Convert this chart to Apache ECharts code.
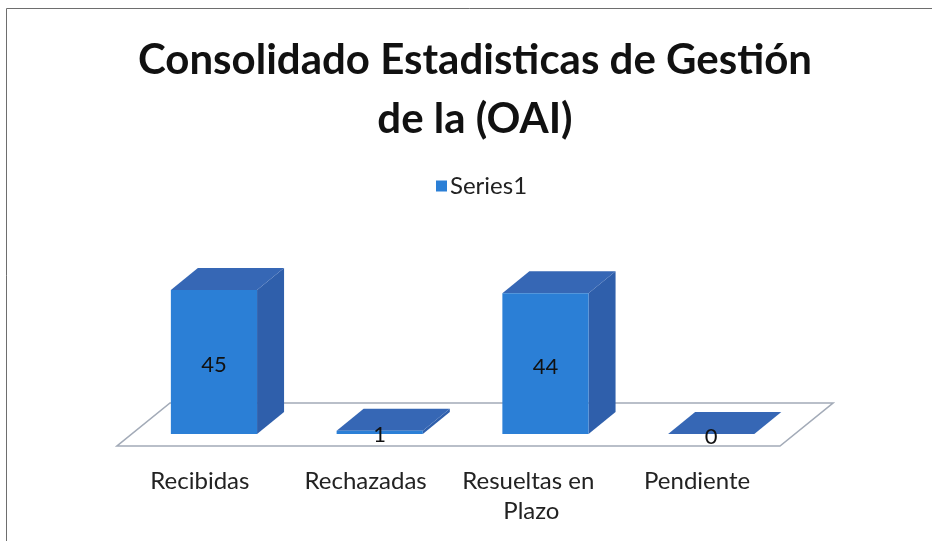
<!DOCTYPE html>
<html>
<head>
<meta charset="utf-8">
<script src="https://cdn.jsdelivr.net/npm/echarts@6/dist/echarts.min.js"></script>
<style>html,body{margin:0;padding:0;background:#fff}#c{width:932px;height:541px}</style>
</head>
<body>
<div id="c"></div>
<script>
const titleText = 'Consolidado Estadisticas de Gestión\nde la (OAI)';
const seriesName = 'Series1';
const categories = ['Recibidas', 'Rechazadas', 'Resueltas en Plazo', 'Pendiente'];
const values = [45, 1, 44, 0];

const FRONT = '#2b7fd6', SIDE = '#2f5fab', TOP = '#3667b5';
const FONT = 'Lato, "Open Sans", sans-serif';

const chart = echarts.init(document.getElementById('c'));
chart.setOption({
  backgroundColor: '#fff',
  animation: false,
  graphic: [{
    type: 'rect', shape: { x: 6.5, y: 8.5, width: 960, height: 600 },
    style: { fill: 'none', stroke: '#6e6e6e', lineWidth: 1 }, silent: true
  }],
  title: {
    text: titleText, left: 470, top: 26, textAlign: 'center',
    textStyle: { fontFamily: FONT, fontWeight: 'bold', fontSize: 42, lineHeight: 59, color: '#111' }
  },
  legend: {
    data: [{ name: seriesName, icon: 'rect' }], left: 431, top: 169,
    itemWidth: 11, itemHeight: 11, itemGap: 4,
    textStyle: { fontFamily: FONT, fontSize: 24, color: '#222', padding: [0, 0, 0, -2] }
  },
  grid: { left: 117, width: 663, top: 274, height: 160, containLabel: false },
  xAxis: {
    type: 'category', data: categories,
    axisLine: { show: false }, axisTick: { show: false }, splitLine: { show: false },
    axisLabel: { margin: 32, fontFamily: FONT, fontSize: 24, color: '#222', lineHeight: 30, width: 145, overflow: 'break', interval: 0 }
  },
  yAxis: { type: 'value', min: 0, max: 50, show: false, splitLine: { show: false } },
  series: [
    {
      type: 'custom', name: 'floor', silent: true, z: 1,
      data: [[0, 0]],
      renderItem: function (params, api) {
        const p0 = api.coord([0, 0]);
        const band = api.size([1, 0])[0];
        const left = p0[0] - band / 2;
        const right = left + band * categories.length;
        const yf = p0[1] + 12, yb = p0[1] - 31, dx = 53;
        return {
          type: 'polygon',
          shape: { points: [[left, yf], [right, yf], [right + dx, yb], [left + dx, yb]] },
          style: { fill: '#fff', stroke: '#a3abb8', lineWidth: 1.6 }
        };
      }
    },
    {
      type: 'custom', name: seriesName, z: 2,
      itemStyle: { color: FRONT },
      data: values.map((v, i) => [i, v]),
      renderItem: function (params, api) {
        const i = api.value(0), v = api.value(1);
        const base = api.coord([i, 0]);
        const top = api.coord([i, v]);
        const band = api.size([1, 0])[0];
        const w = band * 0.52;
        const cx = base[0] + band * 0.085;
        const x0 = cx - w / 2, x1 = cx + w / 2;
        const yb = base[1], yt = top[1];
        const dx = 27, dy = -22;
        return {
          type: 'group',
          children: [
            { type: 'polygon', shape: { points: [[x1, yt], [x1 + dx, yt + dy], [x1 + dx, yb + dy], [x1, yb]] }, style: { fill: SIDE } },
            { type: 'polygon', shape: { points: [[x0, yt], [x1, yt], [x1 + dx, yt + dy], [x0 + dx, yt + dy]] }, style: { fill: TOP } },
            { type: 'rect', shape: { x: x0, y: yt, width: w, height: yb - yt }, style: { fill: FRONT } },
            { type: 'text', style: { text: String(v), x: cx, y: (yt + yb) / 2 + 3, align: 'center', verticalAlign: 'middle', fontFamily: FONT, fontSize: 22, fill: '#111' } }
          ]
        };
      }
    }
  ]
});
</script>
</body>
</html>
